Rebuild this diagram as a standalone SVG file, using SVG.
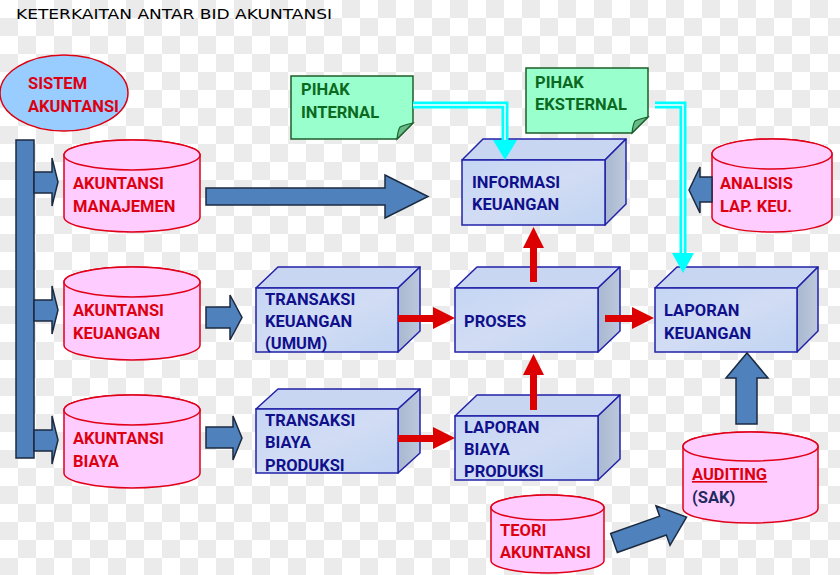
<svg xmlns="http://www.w3.org/2000/svg" width="840" height="575" viewBox="0 0 840 575">
<defs>
<pattern id="chk" x="0" y="0" width="36" height="36" patternUnits="userSpaceOnUse">
<rect width="36" height="36" fill="#ffffff"/>
<rect x="18" y="0" width="18" height="18" fill="#ebebeb"/>
<rect x="0" y="18" width="18" height="18" fill="#ebebeb"/>
</pattern>
<linearGradient id="boxg" x1="0" y1="0" x2="1" y2="1">
<stop offset="0" stop-color="#c4d6f4"/>
<stop offset="0.5" stop-color="#d2dcf4"/>
<stop offset="1" stop-color="#c0d4f2"/>
</linearGradient>
<linearGradient id="sideg" x1="0" y1="0" x2="1" y2="0">
<stop offset="0" stop-color="#a9b8d0"/>
<stop offset="1" stop-color="#bcc8dc"/>
</linearGradient>
<marker id="none" markerWidth="1" markerHeight="1"/>
</defs>
<style>
.title{font-family:"DejaVu Sans",sans-serif;font-size:14px;fill:#000}
.cyl{fill:#ffccff;stroke:#e00018;stroke-width:1.5}
.red{font-family:Roboto,"Liberation Sans",sans-serif;font-weight:700;font-size:16.5px;fill:#dd0010}
.blue{font-family:Roboto,"Liberation Sans",sans-serif;font-weight:700;font-size:16.5px;fill:#10108c}
.grn{font-family:Roboto,"Liberation Sans",sans-serif;font-weight:700;font-size:16.5px;fill:#0b6a1f}
.front{fill:url(#boxg);stroke:#2222a8;stroke-width:1.5}
.top{fill:#c8d6f2;stroke:#2222a8;stroke-width:1.5;stroke-linejoin:round}
.side{fill:url(#sideg);stroke:#2222a8;stroke-width:1.5;stroke-linejoin:round}
.note{fill:#99ffcc;stroke:#1d5e2a;stroke-width:1.5}
.fold{fill:#66bb88;stroke:#1d5e2a;stroke-width:1.2}
.barr{fill:#4f81bd;stroke:#1c2a40;stroke-width:1.5;stroke-linejoin:miter}
.rarr{fill:#dd0000}
.cyo{fill:none;stroke:#00ffff;stroke-width:7}
.cyi{fill:none;stroke:#ffffff;stroke-width:1.5}
.cyh{fill:#00ffff}
</style>
<rect width="840" height="575" fill="url(#chk)"/>
<text class="title" x="16" y="19" textLength="316" lengthAdjust="spacingAndGlyphs">KETERKAITAN ANTAR BID AKUNTANSI</text>

<g id="sistem-akuntansi">
<ellipse cx="64" cy="93" rx="64" ry="38" fill="#99ccff" stroke="#dd0010" stroke-width="1.5"/>
<text class="red" x="28" y="89">SISTEM</text>
<text class="red" x="28" y="112">AKUNTANSI</text>
</g>

<g id="akuntansi-manajemen">
<path class="cyl" d="M64,155 A68,15 0 0 1 200,155 V217 A68,15 0 0 1 64,217 Z"/>
<ellipse class="cyl" cx="132" cy="155" rx="68" ry="15"/>
<text class="red" x="73" y="189">AKUNTANSI</text>
<text class="red" x="73" y="212">MANAJEMEN</text>
</g>
<g id="akuntansi-keuangan">
<path class="cyl" d="M64,282 A68,15 0 0 1 200,282 V345 A68,15 0 0 1 64,345 Z"/>
<ellipse class="cyl" cx="132" cy="282" rx="68" ry="15"/>
<text class="red" x="73" y="316">AKUNTANSI</text>
<text class="red" x="73" y="339">KEUANGAN</text>
</g>
<g id="akuntansi-biaya">
<path class="cyl" d="M64,410 A68,15 0 0 1 200,410 V473 A68,15 0 0 1 64,473 Z"/>
<ellipse class="cyl" cx="132" cy="410" rx="68" ry="15"/>
<text class="red" x="73" y="444">AKUNTANSI</text>
<text class="red" x="73" y="467">BIAYA</text>
</g>

<g id="analisis">
<path class="cyl" d="M712,154 A60,15 0 0 1 832,154 V217 A60,15 0 0 1 712,217 Z"/>
<ellipse class="cyl" cx="772" cy="154" rx="60" ry="15"/>
<text class="red" x="720" y="189">ANALISIS</text>
<text class="red" x="720" y="212">LAP. KEU.</text>
</g>
<g id="auditing">
<path class="cyl" d="M683,446.5 A67.5,14.5 0 0 1 818,446.5 V508.5 A67.5,14.5 0 0 1 683,508.5 Z"/>
<ellipse class="cyl" cx="750.5" cy="446.5" rx="67.5" ry="14.5"/>
<text class="red" x="692" y="480" text-decoration="underline">AUDITING</text>
<text class="blue" x="692" y="503" fill="#1f2a5e" style="fill:#1f2a5e">(SAK)</text>
</g>
<g id="teori">
<path class="cyl" d="M491,507.5 A56.5,12.5 0 0 1 604,507.5 V560.5 A56.5,12.5 0 0 1 491,560.5 Z"/>
<ellipse class="cyl" cx="547.5" cy="507.5" rx="56.5" ry="12.5"/>
<text class="red" x="500" y="536">TEORI</text>
<text class="red" x="500" y="558">AKUNTANSI</text>
</g>

<g id="pihak-internal">
<path class="note" d="M291,76 H413 V123 L397,139 H291 Z"/>
<path class="fold" d="M413,123 L397,139 Q398,130 400,127 Q404,125 413,123 Z"/>
<text class="grn" x="301" y="95">PIHAK</text>
<text class="grn" x="301" y="118">INTERNAL</text>
</g>
<g id="pihak-eksternal">
<path class="note" d="M526,68 H648 V117 L632,133 H526 Z"/>
<path class="fold" d="M648,117 L632,133 Q633,124 635,121 Q639,119 648,117 Z"/>
<text class="grn" x="535" y="88">PIHAK</text>
<text class="grn" x="535" y="110">EKSTERNAL</text>
</g>

<g id="informasi-keuangan">
<polygon class="top" points="462,160 483,139 626,139 605,160"/>
<polygon class="side" points="605,160 626,139 626,204 605,225"/>
<rect class="front" x="462" y="160" width="143" height="65"/>
<text class="blue" x="472" y="188">INFORMASI</text>
<text class="blue" x="472" y="210">KEUANGAN</text>
</g>
<g id="transaksi-keuangan">
<polygon class="top" points="256,288 278,267 420,267 398,288"/>
<polygon class="side" points="398,288 420,267 420,331 398,352"/>
<rect class="front" x="256" y="288" width="142" height="64"/>
<text class="blue" x="265" y="305">TRANSAKSI</text>
<text class="blue" x="265" y="327">KEUANGAN</text>
<text class="blue" x="265" y="349">(UMUM)</text>
</g>
<g id="proses">
<polygon class="top" points="455,288 477,267 620,267 598,288"/>
<polygon class="side" points="598,288 620,267 620,331 598,352"/>
<rect class="front" x="455" y="288" width="143" height="64"/>
<text class="blue" x="464" y="327">PROSES</text>
</g>
<g id="laporan-keuangan">
<polygon class="top" points="655,288 677,267 818,267 797,288"/>
<polygon class="side" points="797,288 818,267 818,331 797,352"/>
<rect class="front" x="655" y="288" width="142" height="64"/>
<text class="blue" x="664" y="316">LAPORAN</text>
<text class="blue" x="664" y="339">KEUANGAN</text>
</g>
<g id="transaksi-biaya">
<polygon class="top" points="256,409 278,389 420,389 398,409"/>
<polygon class="side" points="398,409 420,389 420,453 398,473"/>
<rect class="front" x="256" y="409" width="142" height="64"/>
<text class="blue" x="265" y="426">TRANSAKSI</text>
<text class="blue" x="265" y="448">BIAYA</text>
<text class="blue" x="265" y="471">PRODUKSI</text>
</g>
<g id="laporan-biaya">
<polygon class="top" points="455,416 477,395 620,395 598,416"/>
<polygon class="side" points="598,416 620,395 620,459 598,480"/>
<rect class="front" x="455" y="416" width="143" height="64"/>
<text class="blue" x="464" y="433">LAPORAN</text>
<text class="blue" x="464" y="455">BIAYA</text>
<text class="blue" x="464" y="477">PRODUKSI</text>
</g>

<g id="connectors">
<rect class="barr" x="16" y="140" width="18" height="318"/>
<polygon class="barr" points="34,172 52,172 52,158 58,182 52,206 52,193 34,193"/>
<polygon class="barr" points="34,300 52,300 52,286 58,310 52,334 52,321 34,321"/>
<polygon class="barr" points="34,430 52,430 52,416 58,440 52,464 52,451 34,451"/>
<polygon class="barr" points="206,188 385,188 385,175 428,196.5 385,218 385,205 206,205"/>
<polygon class="barr" points="206,307 230,307 230,295 242,317.5 230,340 230,328 206,328"/>
<polygon class="barr" points="206,427 233,427 233,416 242,438 233,460 233,448 206,448"/>
<polygon class="barr" points="712,177 700,177 700,167 689,190 700,213 700,202 712,202"/>
<polygon class="barr" points="736,424 736,378 726,378 747,353 768,378 757,378 757,424"/>
<polygon class="barr" transform="translate(614,543) rotate(-19.6)" points="0,-10 52,-10 52,-21 77,0 52,21 52,10 0,10"/>

<polygon class="rarr" points="398,315 433,315 433,307 455,318 433,329 433,322 398,322"/>
<polygon class="rarr" points="398,435 433,435 433,427 455,438 433,449 433,442 398,442"/>
<polygon class="rarr" points="605,315 632,315 632,307 654,318 632,329 632,322 605,322"/>
<polygon class="rarr" points="530,410 530,375 523,375 533.5,354 544,375 537,375 537,410"/>
<polygon class="rarr" points="530,282 530,248 523,248 533.5,227 544,248 537,248 537,282"/>

<polyline class="cyo" points="413,105 505,105 505,142"/>
<polyline class="cyi" points="413,105 505,105 505,142"/>
<polygon class="cyh" points="493,140 517,140 505,160"/>
<polyline class="cyo" points="655,105 683,105 683,255"/>
<polyline class="cyi" points="655,105 683,105 683,255"/>
<polygon class="cyh" points="672,253 694,253 683,273"/>
</g>
</svg>
